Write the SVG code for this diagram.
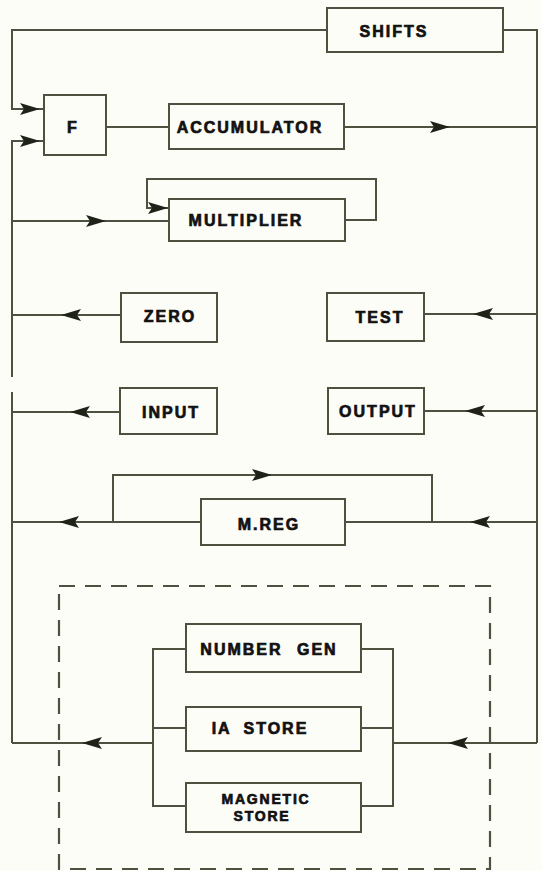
<svg xmlns="http://www.w3.org/2000/svg" xmlns:xlink="http://www.w3.org/1999/xlink" width="542" height="871" viewBox="0 0 542 871">
<style>
.bg{fill:#fdfdf8}
.box{fill:none;stroke:#4d5140;stroke-width:2}
.ln{fill:none;stroke:#4d5140;stroke-width:2;stroke-linejoin:miter}
.dash{fill:none;stroke:#4d5140;stroke-width:2.2;stroke-dasharray:16 10}
.t{font-family:"Liberation Sans",Arial,sans-serif;font-weight:bold;font-size:16px;letter-spacing:2px;fill:#111;stroke:#111;stroke-width:0.7;text-anchor:middle}
.ts{font-size:14px;letter-spacing:1.8px}
.ah{fill:#1f2218}
</style>
<defs>
<path id="aR" d="M0,0 L-20,-6 L-16,0 L-20,6 Z"/>
<path id="aL" d="M0,0 L20,-6 L16,0 L20,6 Z"/>
</defs>
<rect class="bg" x="0" y="0" width="542" height="871"/>
<g id="connectors">
<polyline class="ln" points="44,109 12,109 12,30 327,30"/>
<polyline class="ln" points="503,30 537,30 537,743"/>
<polyline class="ln" points="44,141 12,141 12,377"/>
<line class="ln" x1="106" y1="127" x2="169" y2="127"/>
<line class="ln" x1="344" y1="127" x2="537" y2="127"/>
<polyline class="ln" points="169,208 147,208 147,179 376,179 376,220 345,220"/>
<line class="ln" x1="12" y1="221" x2="169" y2="221"/>
<line class="ln" x1="121" y1="315" x2="12" y2="315"/>
<line class="ln" x1="537" y1="314" x2="424" y2="314"/>
<line class="ln" x1="12" y1="392" x2="12" y2="743"/>
<line class="ln" x1="120" y1="412" x2="12" y2="412"/>
<line class="ln" x1="537" y1="411" x2="424" y2="411"/>
<line class="ln" x1="12" y1="522" x2="201" y2="522"/>
<line class="ln" x1="345" y1="522" x2="537" y2="522"/>
<polyline class="ln" points="113,522 113,475 432,475 432,522"/>
<polyline class="ln" points="186,649 153,649 153,806 186,806"/>
<line class="ln" x1="153" y1="728" x2="186" y2="728"/>
<polyline class="ln" points="361,649 393,649 393,806 361,806"/>
<line class="ln" x1="361" y1="728" x2="393" y2="728"/>
<line class="ln" x1="153" y1="743" x2="12" y2="743"/>
<line class="ln" x1="393" y1="743" x2="537" y2="743"/>
<use class="ah" href="#aR" x="40" y="109"/>
<use class="ah" href="#aR" x="40" y="141"/>
<use class="ah" href="#aR" x="450" y="127"/>
<use class="ah" href="#aR" x="168" y="208"/>
<use class="ah" href="#aR" x="106" y="221"/>
<use class="ah" href="#aL" x="61" y="315"/>
<use class="ah" href="#aL" x="473" y="314"/>
<use class="ah" href="#aL" x="70" y="412"/>
<use class="ah" href="#aL" x="465" y="411"/>
<use class="ah" href="#aR" x="272" y="475"/>
<use class="ah" href="#aL" x="59" y="522"/>
<use class="ah" href="#aL" x="470" y="522"/>
<use class="ah" href="#aL" x="82" y="743"/>
<use class="ah" href="#aL" x="448" y="743"/>
</g>
<g id="store-group">
<rect class="dash" x="59" y="586" width="431" height="283"/>
</g>
<g id="shifts">
<rect class="box" x="327" y="8" width="176" height="44"/>
<text class="t" x="394" y="37">SHIFTS</text>
</g>
<g id="f">
<rect class="box" x="44" y="95" width="62" height="60"/>
<text class="t" x="73" y="133">F</text>
</g>
<g id="accumulator">
<rect class="box" x="169" y="104" width="175" height="45"/>
<text class="t" x="250" y="133">ACCUMULATOR</text>
</g>
<g id="multiplier">
<rect class="box" x="169" y="199" width="176" height="42"/>
<text class="t" x="246" y="226">MULTIPLIER</text>
</g>
<g id="zero">
<rect class="box" x="121" y="293" width="96" height="49"/>
<text class="t" x="170" y="322">ZERO</text>
</g>
<g id="test">
<rect class="box" x="327" y="293" width="97" height="48"/>
<text class="t" x="380" y="323">TEST</text>
</g>
<g id="input">
<rect class="box" x="120" y="388" width="97" height="46"/>
<text class="t" x="171" y="418">INPUT</text>
</g>
<g id="output">
<rect class="box" x="328" y="388" width="96" height="46"/>
<text class="t" x="378" y="417">OUTPUT</text>
</g>
<g id="mreg">
<rect class="box" x="201" y="499" width="144" height="46"/>
<text class="t" x="269" y="530">M.REG</text>
</g>
<g id="number-gen">
<rect class="box" x="186" y="624" width="175" height="48"/>
<text class="t" x="269" y="655" word-spacing="8">NUMBER GEN</text>
</g>
<g id="ia-store">
<rect class="box" x="186" y="707" width="175" height="44"/>
<text class="t" x="260" y="734" word-spacing="6">IA STORE</text>
</g>
<g id="magnetic-store">
<rect class="box" x="186" y="783" width="175" height="49"/>
<text class="t ts" x="266" y="804">MAGNETIC</text>
<text class="t ts" x="262" y="821">STORE</text>
</g>
</svg>
